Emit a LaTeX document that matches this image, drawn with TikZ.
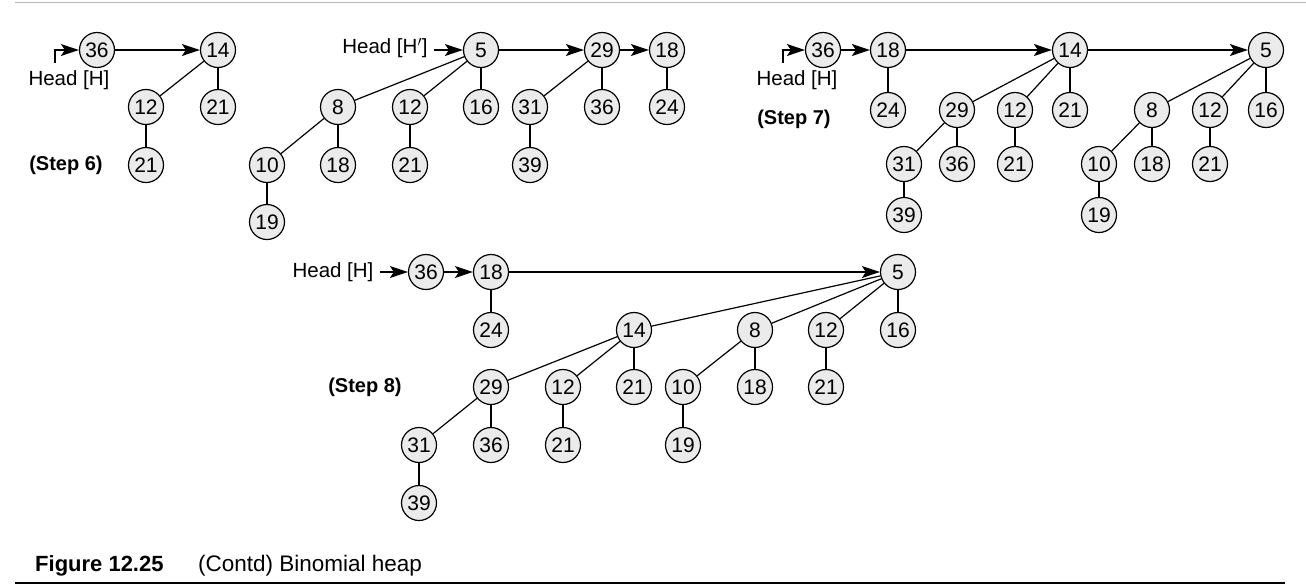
\documentclass[tikz,border=0pt]{standalone}
\usepackage{fontspec}
\setmainfont{Liberation Sans}
\usetikzlibrary{arrows.meta}
\definecolor{nodefill}{HTML}{EBEBEB}
\tikzset{
  hn/.style={circle,draw=black,line width=1.2pt,fill=nodefill,minimum size=35pt,inner sep=0pt,
    font=\fontsize{21}{21}\selectfont},
  edge/.style={draw=black,line width=1.2pt},
  link/.style={draw=black,line width=1.2pt,-{Stealth[length=18pt,width=12pt,inset=4pt]}},
  lbl/.style={font=\fontsize{20.5}{20.5}\selectfont,inner sep=0pt},
  steplbl/.style={font=\fontsize{20}{20}\selectfont\bfseries,inner sep=0pt},
}
\begin{document}
\begin{tikzpicture}[x=1pt,y=-1pt]
\useasboundingbox (0,0) rectangle (1306,587);
\fill[white] (0,0) rectangle (1306,587);
% frame lines
\coordinate (tl) at (15,2.5); \coordinate (tr) at (1306,2.5);
\draw[gray!55,line width=1.5pt] (tl) -- (tr);
\coordinate (bl) at (15,583); \coordinate (br) at (1285,583);
\draw[black,line width=2pt] (bl) -- (br);
\node[anchor=base west,inner sep=0pt,font=\fontsize{22}{22}\selectfont\bfseries] (capA) at (35,571) {Figure 12.25};
\node[anchor=base west,inner sep=0pt,font=\fontsize{22.5}{22.5}\selectfont] (capB) at (198,571) {(Contd) Binomial heap};

% ---------- Step 6 ----------
\node[hn] (a36) at (97,50) {36};
\node[hn] (a14) at (218,50) {14};
\node[hn] (a12) at (146,107) {12};
\node[hn] (a21) at (218,107) {21};
\node[hn] (a21b) at (146,165) {21};
\node[lbl] (aH) at (69,80) {Head [H]};
\node[steplbl] (aS) at (66,165) {(Step 6)};
\coordinate (aP) at (55,63);
\draw[link] (aP) |- (a36.west);
\draw[link] (a36) -- (a14);
\draw[edge] (a14) -- (a12);
\draw[edge] (a14) -- (a21);
\draw[edge] (a12) -- (a21b);

% ---------- H' ----------
\node[hn] (b5) at (481,50) {5};
\node[hn] (b29) at (602,50) {29};
\node[hn] (b18) at (667,50) {18};
\node[hn] (b8) at (338,107) {8};
\node[hn] (b12) at (410,107) {12};
\node[hn] (b16) at (481,107) {16};
\node[hn] (b31) at (530,107) {31};
\node[hn] (b36) at (602,107) {36};
\node[hn] (b24) at (667,107) {24};
\node[hn] (b10) at (267,165) {10};
\node[hn] (b18b) at (338,165) {18};
\node[hn] (b21) at (410,165) {21};
\node[hn] (b39) at (530,165) {39};
\node[hn] (b19) at (267,222) {19};
\node[lbl] (bH) at (385,48) {Head [H$'$]};
\draw[link] (bH.east) ++(6,2) coordinate (bP) -- (b5.west);
\draw[link] (b5) -- (b29);
\draw[link] (b29) -- (b18);
\foreach \p/\c in {b5/b8,b5/b12,b5/b16,b8/b10,b8/b18b,b10/b19,b12/b21,b29/b31,b29/b36,b31/b39,b18/b24}
  \draw[edge] (\p) -- (\c);

% ---------- Step 7 ----------
\node[hn] (c36) at (823,50) {36};
\node[hn] (c18) at (888,50) {18};
\node[hn] (c14) at (1070,50) {14};
\node[hn] (c5) at (1266,50) {5};
\node[hn] (c24) at (888,110) {24};
\node[hn] (c29) at (957,110) {29};
\node[hn] (c12) at (1015,110) {12};
\node[hn] (c21) at (1070,110) {21};
\node[hn] (c8) at (1152,110) {8};
\node[hn] (c12b) at (1210,110) {12};
\node[hn] (c16) at (1266,110) {16};
\node[hn] (c31) at (904,164) {31};
\node[hn] (c36b) at (957,164) {36};
\node[hn] (c21b) at (1015,164) {21};
\node[hn] (c10) at (1099,164) {10};
\node[hn] (c18b) at (1152,164) {18};
\node[hn] (c21c) at (1210,164) {21};
\node[hn] (c39) at (904,215) {39};
\node[hn] (c19) at (1099,215) {19};
\node[lbl] (cH) at (797,80) {Head [H]};
\node[steplbl] (cS) at (794,119) {(Step 7)};
\coordinate (cP) at (783,63);
\draw[link] (cP) |- (c36.west);
\draw[link] (c36) -- (c18);
\draw[link] (c18) -- (c14);
\draw[link] (c14) -- (c5);
\foreach \p/\c in {c18/c24,c14/c29,c14/c12,c14/c21,c29/c31,c29/c36b,c31/c39,c12/c21b,c5/c8,c5/c12b,c5/c16,c8/c10,c8/c18b,c10/c19,c12b/c21c}
  \draw[edge] (\p) -- (\c);

% ---------- Step 8 ----------
\node[hn] (d36) at (426,272) {36};
\node[hn] (d18) at (491,272) {18};
\node[hn] (d5) at (898,272) {5};
\node[hn] (d24) at (491,330) {24};
\node[hn] (d14) at (634,330) {14};
\node[hn] (d8) at (755,330) {8};
\node[hn] (d12) at (826,330) {12};
\node[hn] (d16) at (898,330) {16};
\node[hn] (d29) at (491,387) {29};
\node[hn] (d12b) at (563,387) {12};
\node[hn] (d21) at (634,387) {21};
\node[hn] (d10) at (683,387) {10};
\node[hn] (d18b) at (755,387) {18};
\node[hn] (d21b) at (826,387) {21};
\node[hn] (d31) at (419,445) {31};
\node[hn] (d36b) at (491,445) {36};
\node[hn] (d21c) at (563,445) {21};
\node[hn] (d19) at (683,445) {19};
\node[hn] (d39) at (419,503) {39};
\node[lbl] (dH) at (333,272) {Head [H]};
\node[steplbl] (dS) at (365,387) {(Step 8)};
\draw[link] (dH.east) ++(6,0) coordinate (dP) -- (d36.west);
\draw[link] (d36) -- (d18);
\draw[link] (d18) -- (d5);
\foreach \p/\c in {d18/d24,d5/d14,d5/d8,d5/d12,d5/d16,d14/d29,d14/d12b,d14/d21,d29/d31,d29/d36b,d31/d39,d12b/d21c,d8/d10,d8/d18b,d10/d19,d12/d21b}
  \draw[edge] (\p) -- (\c);
\end{tikzpicture}
\end{document}
